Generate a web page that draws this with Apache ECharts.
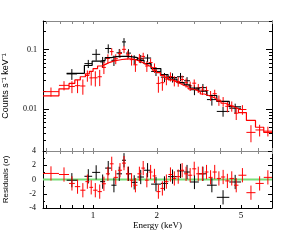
<!DOCTYPE html>
<html><head><meta charset="utf-8">
<script src="https://cdn.jsdelivr.net/npm/echarts@6/dist/echarts.min.js"></script>
<style>html,body{margin:0;padding:0;background:#fff}#c{width:300px;height:240px}</style>
</head><body><div id="c"></div>
<script>
// ---- axis ranges & ticks ----
const X_MIN = 0.58, X_MAX = 7;
const Y_MIN = 0.002, Y_MAX = 0.3;
const xTickLabels = [1, 2, 5];
const xMinorTicks = [0.6, 0.7, 0.8, 0.9, 1, 2, 3, 4, 5, 6, 7];
const yTickLabels = [0.01, 0.1];
const yMinorTicks = [0.002,0.003,0.004,0.005,0.006,0.007,0.008,0.009,0.01,0.02,0.03,0.04,0.05,0.06,0.07,0.08,0.09,0.1,0.2,0.3];
const resTickLabels = [-4, -2, 0, 2, 4];

// ---- red data set (bin edges, counts, errors, residuals, model) ----
const redEdges = [0.58,0.69,0.77,0.82,0.87,0.92,0.96,1.00,1.05,1.10,1.15,1.20,1.25,1.31,1.37,1.43,1.49,1.55,1.62,1.69,1.76,1.83,1.91,1.99,2.08,2.17,2.27,2.37,2.47,2.58,2.69,2.81,2.94,3.07,3.21,3.36,3.51,3.67,3.84,4.02,4.21,4.41,4.63,4.86,5.30,5.85,6.40,7.00];
const redVal = [0.0197,0.0251,0.0240,0.0248,0.0245,0.0367,0.0335,0.0336,0.0350,0.0502,0.0708,0.0922,0.0700,0.0857,0.1007,0.0812,0.0676,0.0554,0.0719,0.0766,0.0529,0.0605,0.0495,0.0271,0.0278,0.0320,0.0353,0.0299,0.0292,0.0315,0.0278,0.0246,0.0273,0.0226,0.0209,0.0206,0.0170,0.0182,0.0142,0.0135,0.0112,0.0113,0.0086,0.0099,0.0041,0.0045,0.0043];
const redErr = [0.0034,0.0044,0.0054,0.0062,0.0070,0.0078,0.0086,0.0096,0.0106,0.0114,0.0122,0.0128,0.0132,0.0136,0.0138,0.0140,0.0138,0.0132,0.0124,0.0116,0.0108,0.0100,0.0090,0.0082,0.0074,0.0068,0.0062,0.0058,0.0054,0.0050,0.0048,0.0044,0.0042,0.0039,0.0036,0.0034,0.0032,0.0030,0.0028,0.0025,0.0023,0.0022,0.0020,0.0018,0.0013,0.0010,0.0008];
const redRes = [0.85,0.7,-0.55,-1.0,-1.5,-0.3,-1.1,-1.5,-1.7,-0.6,0.8,2.2,0.3,1.3,2.3,0.8,-0.1,-0.8,0.8,1.6,-0.1,1.05,0.5,-1.7,-1.25,-0.3,0.7,0.15,0.4,1.3,0.8,0.6,1.5,0.8,0.8,1.05,0.3,1.05,0.15,0.35,-0.2,0.15,-0.8,0.6,-1.85,-0.55,0.3];
const redModel = [0.0168,0.022,0.027,0.031,0.035,0.039,0.043,0.048,0.053,0.057,0.061,0.064,0.066,0.068,0.069,0.070,0.069,0.066,0.062,0.058,0.054,0.050,0.045,0.041,0.037,0.034,0.031,0.029,0.027,0.025,0.024,0.022,0.021,0.0195,0.018,0.017,0.016,0.015,0.0138,0.0126,0.0117,0.011,0.0102,0.0088,0.0065,0.0050,0.0041];

// ---- black data set ----
const blackLo = [0.75,0.91,0.99,1.08,1.14,1.22,1.29,1.37,1.43,1.51,1.62,1.74,1.88,2.09,2.26,2.49,2.69,2.87,3.16,3.45,3.84,4.40];
const blackHi = [0.84,0.99,1.08,1.14,1.22,1.29,1.37,1.43,1.51,1.62,1.74,1.88,2.09,2.26,2.49,2.69,2.87,3.16,3.45,3.84,4.40,5.00];
const blackVal = [0.039,0.058,0.083,0.062,0.104,0.066,0.088,0.134,0.087,0.068,0.070,0.072,0.043,0.0345,0.034,0.035,0.030,0.0212,0.023,0.0145,0.0092,0.0104];
const blackErr = [0.008,0.009,0.018,0.013,0.018,0.013,0.014,0.021,0.014,0.012,0.011,0.011,0.007,0.006,0.006,0.0055,0.0045,0.004,0.0035,0.003,0.0017,0.002];
const blackRes = [-0.1,0.45,1.0,-0.3,1.6,-0.8,0.8,2.7,0.8,-0.4,0.35,1.3,-0.65,-0.55,0.4,1.2,1.05,-0.35,0.8,-0.8,-2.5,-0.35];
const blackModel = [0.040,0.054,0.064,0.066,0.073,0.076,0.077,0.077,0.076,0.073,0.066,0.058,0.048,0.038,0.032,0.028,0.0255,0.0226,0.020,0.017,0.0135,0.011];

// ---- build series data ----
const RED = '#ff0000', BLACK = '#000000', GREEN = '#77dd77';
const FONT = 'Liberation Serif', SANS = 'Liberation Sans';
const redBins = redVal.map((v, i) => [redEdges[i], redEdges[i+1], v, redErr[i], redRes[i]]);
const blackBins = blackVal.map((v, i) => [blackLo[i], blackHi[i], v, blackErr[i], blackRes[i]]);
const redModelLine = redModel.map((m, i) => [redEdges[i], m]).concat([[redEdges[redEdges.length-1], redModel[redModel.length-1]]]);
const blackModelLine = blackModel.map((m, i) => [blackLo[i], m]).concat([[blackHi[blackHi.length-1], blackModel[blackModel.length-1]]]);

function crossRenderer(color, residual) {
  return function (params, api) {
    const lo = api.value(0), hi = api.value(1);
    const c = Math.sqrt(lo * hi);
    let v, e;
    if (residual) { v = api.value(4); e = 1; } else { v = api.value(2); e = api.value(3); }
    const pL = api.coord([lo, v]), pR = api.coord([hi, v]);
    const pT = api.coord([c, v + e]), pB = api.coord([c, v - e]);
    const cs = params.coordSys;
    const clampY = y => Math.max(cs.y, Math.min(cs.y + cs.height, y));
    const style = { stroke: color, lineWidth: 1 };
    return { type: 'group', children: [
      { type: 'line', shape: { x1: pL[0], y1: pL[1], x2: pR[0], y2: pR[1] }, style },
      { type: 'line', shape: { x1: pT[0], y1: clampY(pT[1]), x2: pB[0], y2: clampY(pB[1]) }, style }
    ]};
  };
}

function xAx(gridIndex, position, color, ticks, len, showLabel, name) {
  return {
    type: 'log', logBase: 10, gridIndex, position, min: X_MIN, max: X_MAX,
    name: name || '', nameLocation: 'middle', nameGap: 13,
    nameTextStyle: { fontFamily: FONT, fontSize: 9, color: '#000' },
    axisLine: { show: true, onZero: false, lineStyle: { color, width: 1 } },
    axisTick: { show: true, inside: true, length: len, customValues: ticks, lineStyle: { color } },
    axisLabel: { show: showLabel, customValues: xTickLabels, margin: 3, fontFamily: FONT, fontSize: 9, color: '#000',
      formatter: v => String(Math.round(v)) },
    splitLine: { show: false }
  };
}
function yLogAx(position, ticks, len, showLabel, showLine, name) {
  return {
    type: 'log', logBase: 10, gridIndex: 0, position, min: Y_MIN, max: Y_MAX,
    name: name || '', nameLocation: 'middle', nameGap: 33, nameRotate: 90,
    nameTextStyle: { fontFamily: SANS, fontSize: 9, color: '#000', padding: [0, 0, 0, 0] },
    axisLine: { show: showLine, onZero: false, lineStyle: { color: '#000', width: 1 } },
    axisTick: { show: true, inside: true, length: len, customValues: ticks, lineStyle: { color: '#000' } },
    axisLabel: { show: showLabel, customValues: yTickLabels, margin: 6, fontFamily: FONT, fontSize: 8, color: '#000',
      formatter: v => (v > 0.05 ? '0.1' : '0.01') },
    splitLine: { show: false }
  };
}
function yResAx(position, showLabel, name) {
  return {
    type: 'value', gridIndex: 1, position, min: -4, max: 4, interval: 2,
    name: name || '', nameLocation: 'middle', nameGap: 33, nameRotate: 90,
    nameTextStyle: { fontFamily: SANS, fontSize: 8, color: '#000' },
    axisLine: { show: true, onZero: false, lineStyle: { color: '#000', width: 1 } },
    axisTick: { show: true, inside: true, length: 4, lineStyle: { color: '#000' } },
    minorTick: { show: true, splitNumber: 2, length: 2, lineStyle: { color: '#000' } },
    axisLabel: { show: showLabel, margin: 7, fontFamily: FONT, fontSize: 8, color: '#000',
      formatter: v => (resTickLabels.indexOf(v) >= 0 ? String(v) : '') },
    splitLine: { show: false }
  };
}

const chart = echarts.init(document.getElementById('c'), null, { renderer: 'canvas' });
chart.setOption({
  animation: false,
  backgroundColor: '#fff',
  grid: [
    { left: 43, top: 21, width: 229, height: 130, containLabel: false, outerBoundsMode: 'none' },
    { left: 43, top: 151, width: 229, height: 57, containLabel: false, outerBoundsMode: 'none' }
  ],
  xAxis: [
    xAx(0, 'bottom', '#888888', xMinorTicks, 3, false),
    xAx(0, 'top', '#888888', xMinorTicks, 3, false),
    xAx(1, 'bottom', '#000000', xMinorTicks, 3, true, 'Energy (keV)'),
    xAx(1, 'top', '#888888', xMinorTicks, 3, false)
  ],
  yAxis: [
    yLogAx('left', yMinorTicks, 3, true, true, 'Counts s\u207B\u00B9 keV\u207B\u00B9'),
    yLogAx('right', yMinorTicks, 3, false, true),
    yLogAx('left', yTickLabels, 6, false, false),
    yLogAx('right', yTickLabels, 6, false, false),
    yResAx('left', true, 'Residuals (\u03C3)'),
    yResAx('right', false)
  ],
  series: [
    { type: 'line', xAxisIndex: 2, yAxisIndex: 4, data: [[X_MIN, 0], [X_MAX, 0]], symbol: 'none',
      lineStyle: { color: GREEN, width: 2 }, silent: true, z: 1 },
    { type: 'custom', xAxisIndex: 0, yAxisIndex: 0, data: blackBins, renderItem: crossRenderer(BLACK, false),
      encode: { x: [0, 1], y: 2 }, z: 2 },
    { type: 'custom', xAxisIndex: 0, yAxisIndex: 0, data: redBins, renderItem: crossRenderer(RED, false),
      encode: { x: [0, 1], y: 2 }, z: 3 },
    { type: 'line', xAxisIndex: 0, yAxisIndex: 0, data: blackModelLine, step: 'end', symbol: 'none',
      lineStyle: { color: BLACK, width: 1.2 }, z: 4 },
    { type: 'line', xAxisIndex: 0, yAxisIndex: 0, data: redModelLine, step: 'end', symbol: 'none',
      lineStyle: { color: RED, width: 1.2 }, z: 5 },
    { type: 'custom', xAxisIndex: 2, yAxisIndex: 4, data: blackBins, renderItem: crossRenderer(BLACK, true),
      encode: { x: [0, 1], y: 4 }, z: 2 },
    { type: 'custom', xAxisIndex: 2, yAxisIndex: 4, data: redBins, renderItem: crossRenderer(RED, true),
      encode: { x: [0, 1], y: 4 }, z: 3 }
  ]
});
</script></body></html>
